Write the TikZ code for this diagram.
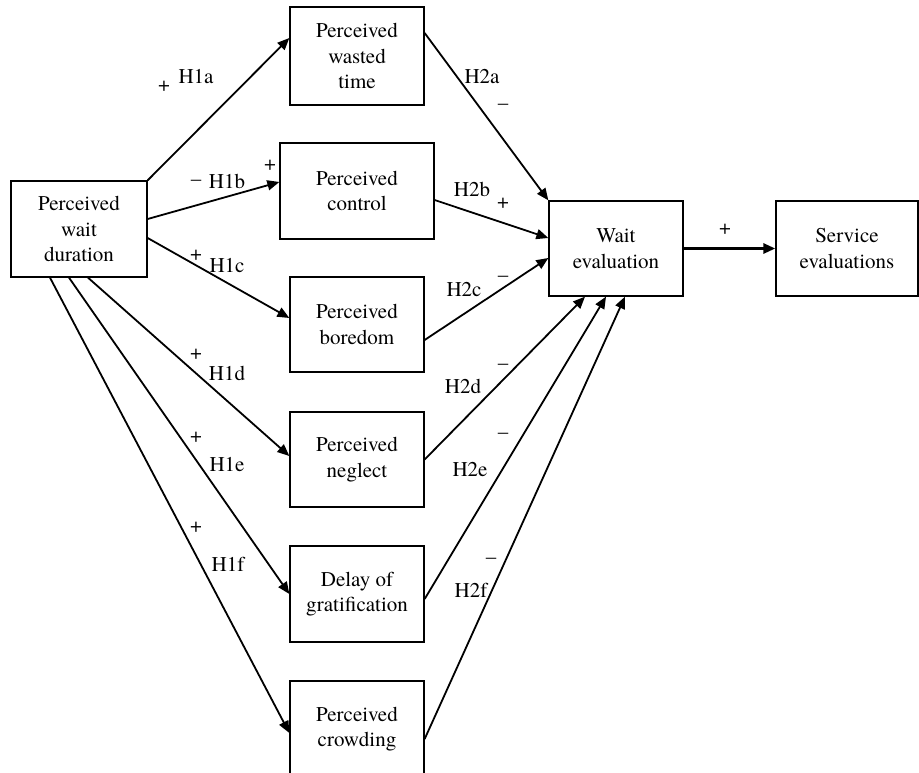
\documentclass[tikz,border=0pt]{standalone}
\usepackage{fontspec}
\setmainfont{TeX Gyre Termes}
\usetikzlibrary{arrows.meta}

\begin{document}
\begin{tikzpicture}[x=1pt, y=-1pt,
        box/.style={draw, line width=1.3pt, align=center, inner sep=0pt,
            minimum width=134pt, minimum height=96pt,
            font=\fontsize{21pt}{25.5pt}\selectfont},
        lbl/.style={inner sep=0pt, font=\fontsize{21pt}{24pt}\selectfont},
        arr/.style={line width=1.8pt, -{Triangle[length=12pt, width=10pt]}}]
            \useasboundingbox (0,0) rectangle (919,773);

            % boxes
            \node[box, minimum width=136pt] (dur) at (79,229) {Perceived\\wait\\duration};
            \node[box, minimum height=98pt] (wasted) at (357,56) {Perceived\\wasted\\time};
            \node[box, minimum width=154pt] (control) at (357,191) {Perceived\\control};
            \node[box, minimum height=95pt] (boredom) at (357,324.5) {Perceived\\boredom};
            \node[box, minimum height=95pt] (neglect) at (357,459.5) {Perceived\\neglect};
            \node[box] (delay) at (357,594) {Delay of\\gratification};
            \node[box] (crowd) at (357,729) {Perceived\\crowding};
            \node[box, minimum height=95pt] (waiteval) at (616,248.5) {Wait\\evaluation};
            \node[box, minimum width=142pt, minimum height=95pt] (service) at (847,248.5) {Service\\evaluations};

            % H1 paths
            \draw[arr] (dur.north east) -- ([yshift=18pt]wasted.west);
            \draw[arr] ([yshift=10pt]dur.east) -- ([yshift=9pt]control.west);
            \draw[arr] ([yshift=-9pt]dur.east) -- ([yshift=6.5pt]boredom.west);
            \draw[arr] ([xshift=9pt]dur.south) -- ([yshift=3.5pt]neglect.west);
            \draw[arr] ([xshift=-10pt]dur.south) -- (delay.west);
            \draw[arr] ([xshift=-29pt]dur.south) -- ([yshift=-4pt]crowd.west);

            % H2 paths
            \draw[arr] ([yshift=23pt]wasted.east) -- (waiteval.north west);
            \draw[arr] ([yshift=-9pt]control.east) -- ([yshift=10.5pt]waiteval.west);
            \draw[arr] ([yshift=-15.5pt]boredom.east) -- ([yshift=-9.5pt]waiteval.west);
            \draw[arr] (neglect.east) -- ([xshift=-31pt]waiteval.south);
            \draw[arr] ([yshift=-5pt]delay.east) -- ([xshift=-10pt]waiteval.south);
            \draw[arr] ([yshift=-10pt]crowd.east) -- ([xshift=9pt]waiteval.south);

            \draw[arr, line width=2.8pt] (waiteval.east) -- (service.west);

            % labels
            \node[lbl] (s1a) at (164,86) {+};
            \node[lbl] (h1a) at (196,77) {H1a};
            \node[lbl] (s1b) at (196,183) {–};
            \node[lbl] (h1b) at (227,181) {H1b};
            \node[lbl] (s1bb) at (270,165) {+};
            \node[lbl] (s1c) at (196,255) {+};
            \node[lbl] (h1c) at (227,266) {H1c};
            \node[lbl] (s1d) at (196,354) {+};
            \node[lbl] (h1d) at (227,373) {H1d};
            \node[lbl] (s1e) at (196,437) {+};
            \node[lbl] (h1e) at (227,465) {H1e};
            \node[lbl] (s1f) at (196,527) {+};
            \node[lbl] (h1f) at (228,564) {H1f};

            \node[lbl] (h2a) at (482,77) {H2a};
            \node[lbl] (s2a) at (503,107) {–};
            \node[lbl] (h2b) at (472,189) {H2b};
            \node[lbl] (s2b) at (503,203) {+};
            \node[lbl] (h2c) at (464,290) {H2c};
            \node[lbl] (s2c) at (503,279) {–};
            \node[lbl] (h2d) at (463,386) {H2d};
            \node[lbl] (s2d) at (503,367) {–};
            \node[lbl] (h2e) at (470,470) {H2e};
            \node[lbl] (s2e) at (503,436) {–};
            \node[lbl] (h2f) at (471,590) {H2f};
            \node[lbl] (s2f) at (491,561) {–};

            \node[lbl] (s3) at (725,229) {+};
\end{tikzpicture}
\end{document}
